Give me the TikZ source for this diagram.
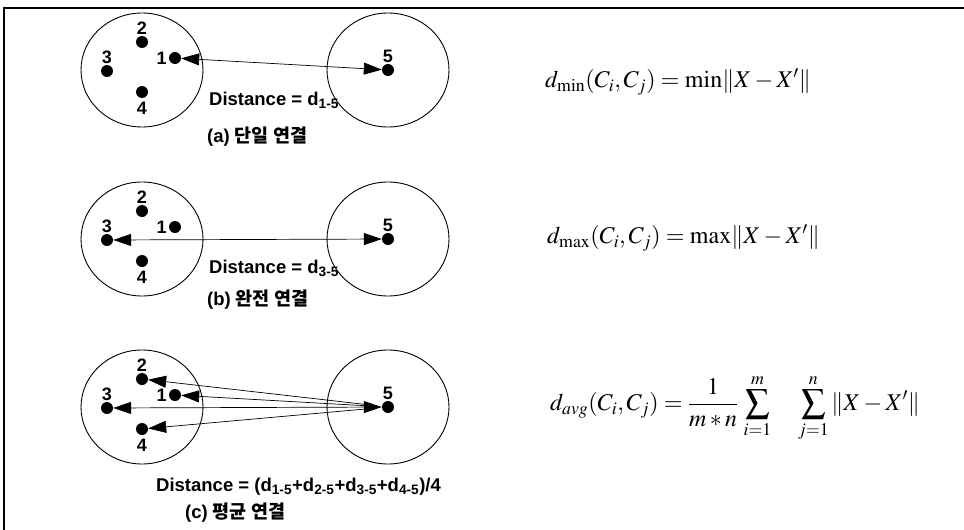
\documentclass[tikz,border=0pt]{standalone}
\usepackage{mathptmx}
\usepackage[no-math]{fontspec}
\newfontfamily\labelfont{Liberation Sans}
\newfontfamily\korfont{Noto Sans CJK KR}
\usetikzlibrary{arrows.meta}

\begin{document}
\begin{tikzpicture}[x=1pt, y=-1pt, >={Triangle[length=18pt, width=12pt]},
  clus/.style={line width=0.9pt},
  conn/.style={line width=0.7pt},
  dot/.style={circle, fill, inner sep=0pt, minimum size=12pt},
  num/.style={font=\labelfont\bfseries\fontsize{18}{18}\selectfont, inner sep=0pt},
  txt/.style={font=\labelfont\bfseries\fontsize{18.5}{20}\selectfont, inner sep=0pt, anchor=west},
  fml/.style={font=\fontsize{24}{28}\selectfont, inner sep=0pt, anchor=west}]
  \useasboundingbox (0,0) rectangle (964,530);
  \draw[line width=1.2pt] (964,8) -- (4,8) -- (4,530);

  % clusters and points
  \foreach \p/\c in {a/70, b/239, c/407} {
    \draw[clus] (142,\c) ellipse [x radius=61, y radius=57];
    \draw[clus] (388,\c) ellipse [x radius=61, y radius=57];
    \node[dot, label={[num, label distance=1pt]above:2}] (\p2) at (142,\c-28) {};
    \node[dot, label={[num, label distance=2pt]left:1}] (\p1) at (175,\c-12) {};
    \node[dot, label={[num, label distance=1pt]above:3}] (\p3) at (107,\c+1) {};
    \node[dot, label={[num, label distance=4pt]below:4}] (\p4) at (142,\c+22) {};
    \node[dot, label={[num, label distance=1pt]above:5}] (\p5) at (388,\c) {};
  }

  % (a)
  \draw[<->, conn] (a1) -- (a5);
  \node[txt] (da) at (209,100) {Distance = d\textsubscript{1-5}};
  \node[txt] (capa) at (207,137) {(a) {\korfont\bfseries 단일 연결}};
  \node[fml] (fa) at (545,82) {$d_{\min}(C_i,C_j)=\mathrm{min}\|X-X'\|$};

  % (b)
  \draw[<->, conn] (b3) -- (b5);
  \node[txt] (db) at (209,268) {Distance = d\textsubscript{3-5}};
  \node[txt] (capb) at (207,300) {(b) {\korfont\bfseries 완전 연결}};
  \node[fml] (fb) at (547,238) {$d_{\max}(C_i,C_j)=\mathrm{max}\|X-X'\|$};

  % (c)
  \draw[<->, conn] (c3) -- (c5);
  \foreach \k in {2,1,4}
    \draw[<-, conn, shorten >=18pt] (c\k) -- (c5);
  \node[txt] (dc) at (156,487) {Distance = (d\textsubscript{1-5}+d\textsubscript{2-5}+d\textsubscript{3-5}+d\textsubscript{4-5})/4};
  \node[txt] (capc) at (185,513) {(c) {\korfont\bfseries 평균 연결}};
  \node[fml] (fc) at (550,408) {$\displaystyle d_{avg}(C_i,C_j)=\frac{1}{m*n}\,\sum_{i=1}^{m}\quad\sum_{j=1}^{n}\|X-X'\|$};
\end{tikzpicture}
\end{document}
